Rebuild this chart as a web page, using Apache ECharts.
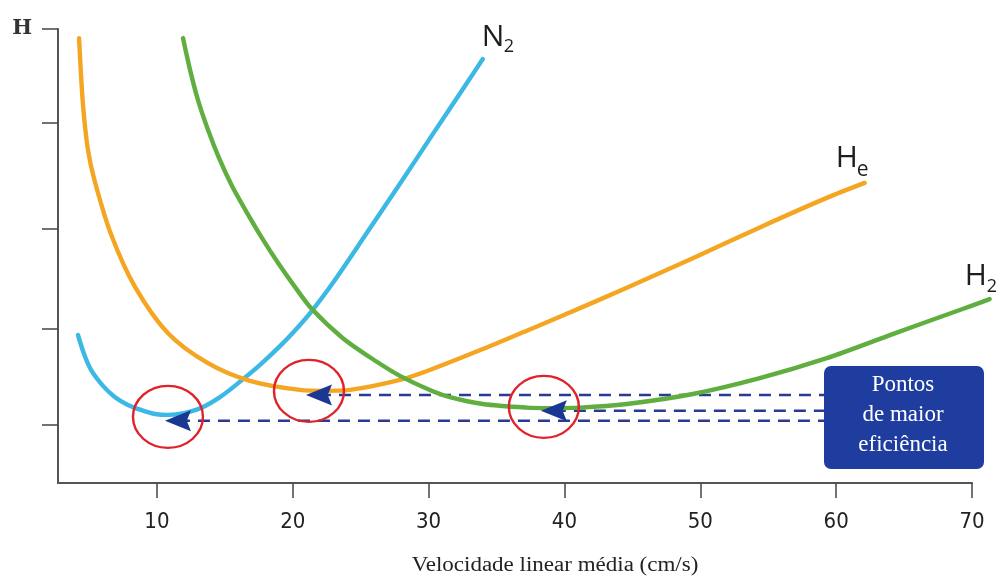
<!DOCTYPE html>
<html>
<head>
<meta charset="utf-8">
<script src="https://cdn.jsdelivr.net/npm/echarts@6/dist/echarts.min.js"></script>
<style>
  html, body { margin: 0; padding: 0; background: #fff; }
  #chart { width: 999px; height: 576px; }
</style>
</head>
<body>
<div id="chart"></div>
<script>
// Van Deemter curves: plate height H against mean linear velocity (cm/s)
const n2Curve = [
  [4.19, 32.6], [4.64, 28.4], [5.15, 24.9], [6.03, 21.4], [6.92, 18.9],
  [7.87, 17.2], [8.83, 16.1], [9.86, 15.2], [10.82, 15.0], [11.99, 15.4],
  [13.24, 16.5], [14.64, 18.9], [16.19, 22.5], [17.59, 26.0], [19.28, 30.8],
  [20.53, 34.8], [21.41, 37.9], [22.96, 44.1], [25.46, 55.1], [27.89, 65.9],
  [30.32, 76.9], [32.82, 88.1], [33.99, 93.4]
];
const heCurve = [
  [4.27, 98.0], [4.56, 83.3], [4.93, 73.3], [5.44, 66.3], [6.62, 54.8],
  [8.39, 43.2], [10.82, 33.0], [13.76, 26.4], [16.85, 22.5], [20.53, 20.5],
  [22.37, 20.3], [24.21, 20.5], [27.89, 22.7], [30.09, 24.9], [33.99, 29.5],
  [37.67, 34.1], [39.66, 36.6], [44.59, 43.0], [49.45, 49.5], [54.38, 56.3],
  [59.31, 62.8], [62.10, 66.1]
];
const h2Curve = [
  [11.92, 98.0], [12.44, 91.0], [13.02, 84.4], [13.76, 77.8], [14.57, 71.6],
  [15.53, 65.4], [16.56, 59.9], [17.73, 54.0], [18.91, 48.5], [20.16, 43.2],
  [21.41, 38.3], [23.69, 31.9], [26.19, 26.7], [27.89, 23.6], [30.09, 20.5],
  [31.57, 18.9], [33.99, 17.4], [37.23, 16.6], [38.93, 16.5], [41.13, 16.6],
  [44.59, 17.4], [49.45, 19.6], [54.38, 23.1], [59.31, 27.5], [64.16, 32.8],
  [69.10, 38.1], [71.30, 40.5]
];
// optimum velocity (lowest H) for N2, He and H2
const optimumPoints = [[11.55, 13.7], [21.93, 19.4], [39.22, 15.9]];

const xTicks = [10, 20, 30, 40, 50, 60, 70];
const yTicks = [12.8, 33.9, 55.9, 79.3, 100];
const yTickLabels = ['H'];
const xTitle = 'Velocidade linear média (cm/s)';
const boxLines = ['Pontos', 'de maior', 'eficiência'];

// gas labels: main letter + subscript, offsets from the curve end
const gasLabels = [
  { main: 'N', sub: '2', mainDx: -1, mainDy: -22, subDx: 21, subDy: -12, subSize: 18 },
  { main: 'H', sub: 'e', mainDx: -29, mainDy: -24, subDx: -8, subDy: -13, subSize: 21 },
  { main: 'H', sub: '2', mainDx: -25, mainDy: -23, subDx: -3, subDy: -12, subSize: 18 }
];

const guideEndX = 59.2; // dashed guides run to the note box

const colors = { n2: '#3bb9e4', he: '#f4a623', h2: '#5fae3f', guide: '#2a3a94', arrow: '#1a3791', ring: '#e0232b', box: '#1f3d9f' };

// left-pointing arrowhead with a notched back
const arrowHead = 'path://M0,10 L25,0 L21,10 L25,20 Z';

const xMin = 2.72, xMax = 70;
// the H2 curve runs a little past the end of the axis; it gets an
// invisible twin grid with the same scale but a longer x extent
const xMaxWide = 71.4;

const chart = echarts.init(document.getElementById('chart'), null, { renderer: 'canvas' });

function curveSeries(name, data, color, axisIdx) {
  return {
    name, type: 'line', data, smooth: 0.3, symbol: 'none', clip: false,
    xAxisIndex: axisIdx, yAxisIndex: axisIdx,
    lineStyle: { color, width: 4.4, cap: 'round' }, z: 3, silent: true
  };
}

const guideSeries = optimumPoints.map((p, i) => ({
  name: 'guide' + i, type: 'line', symbol: 'none', silent: true, z: 2,
  data: [p, [guideEndX, p[1]]],
  lineStyle: { color: colors.guide, width: 2.5, type: [12, 8] }
}));

const sansNarrow = "'Liberation Sans Narrow', 'DejaVu Sans Condensed', 'Open Sans', sans-serif";

const gridLeft = 58, gridRight = 27;
const plotWidth = 999 - gridLeft - gridRight;
const wideRight = 999 - gridLeft - plotWidth * (xMaxWide - xMin) / (xMax - xMin);

chart.setOption({
  animation: false,
  backgroundColor: '#ffffff',
  grid: [
    { left: gridLeft, right: gridRight, top: 29, bottom: 93, outerBoundsMode: 'none' },
    { left: gridLeft, right: wideRight, top: 29, bottom: 93, outerBoundsMode: 'none' }
  ],
  xAxis: [{
    type: 'value', min: xMin, max: xMax, gridIndex: 0,
    axisLine: { show: true, onZero: false, lineStyle: { color: '#555', width: 2 } },
    axisTick: { show: true, customValues: xTicks, length: 15, lineStyle: { color: '#444', width: 1.5 } },
    axisLabel: { customValues: xTicks, margin: 28, fontSize: 22, fontFamily: sansNarrow, color: '#222' },
    splitLine: { show: false }
  }, {
    type: 'value', min: xMin, max: xMaxWide, gridIndex: 1, show: false
  }],
  yAxis: [{
    type: 'value', min: 0, max: 100, gridIndex: 0,
    axisLine: { show: true, lineStyle: { color: '#555', width: 2 } },
    axisTick: { show: true, customValues: yTicks, length: 16, lineStyle: { color: '#444', width: 1.5 } },
    axisLabel: {
      customValues: [100], formatter: () => yTickLabels[0], margin: 26,
      fontSize: 21, fontWeight: 'bold', fontFamily: "'DejaVu Serif', serif", color: '#333'
    },
    splitLine: { show: false }
  }, {
    type: 'value', min: 0, max: 100, gridIndex: 1, show: false
  }],
  series: [
    curveSeries('N2', n2Curve, colors.n2, 0),
    curveSeries('He', heCurve, colors.he, 0),
    curveSeries('H2', h2Curve, colors.h2, 1),
    ...guideSeries,
    {
      name: 'rings', type: 'scatter', data: optimumPoints, silent: true, z: 5,
      symbol: 'circle', symbolSize: [70, 62], symbolOffset: [-10, -4],
      itemStyle: { color: 'rgba(0,0,0,0)', borderColor: colors.ring, borderWidth: 2.3, opacity: 1 }
    },
    {
      name: 'arrows', type: 'scatter', data: optimumPoints, silent: true, z: 6,
      symbol: arrowHead, symbolSize: [26, 21], symbolKeepAspect: false,
      itemStyle: { color: colors.arrow, opacity: 1 }
    }
  ],
  graphic: [
    {
      id: 'xTitle', type: 'text', z: 10, x: 555, y: 566, scaleX: 1.15,
      style: {
        text: xTitle, fill: '#222', font: "20px 'Liberation Serif', serif",
        align: 'center', verticalAlign: 'middle'
      }
    },
    {
      id: 'noteBox', type: 'rect', z: 10,
      shape: { x: 824, y: 366, width: 160, height: 103, r: 7 },
      style: { fill: colors.box }
    },
    {
      id: 'noteText', type: 'text', z: 11, x: 903, y: 415,
      style: {
        text: boxLines.join('\n'), fill: '#ffffff', font: "23px 'Liberation Serif', serif",
        align: 'center', verticalAlign: 'middle', lineHeight: 30
      }
    }
  ]
});

// gas names placed next to the end of each curve
const curves = [n2Curve, heCurve, h2Curve];
const curveGrid = [0, 0, 1];
const labelGraphics = [];
curves.forEach((c, i) => {
  const end = chart.convertToPixel({ gridIndex: curveGrid[i] }, c[c.length - 1]);
  const L = gasLabels[i];
  labelGraphics.push({
    id: 'gasMain' + i, type: 'text', z: 12, x: end[0] + L.mainDx, y: end[1] + L.mainDy,
    style: { text: L.main, fill: '#1e1e1e', font: "30px 'Open Sans', sans-serif", align: 'left', verticalAlign: 'middle' }
  });
  labelGraphics.push({
    id: 'gasSub' + i, type: 'text', z: 12, x: end[0] + L.subDx, y: end[1] + L.subDy,
    style: { text: L.sub, fill: '#1e1e1e', font: L.subSize + "px 'Open Sans', sans-serif", align: 'left', verticalAlign: 'middle' }
  });
});
chart.setOption({ graphic: labelGraphics });
</script>
</body>
</html>
